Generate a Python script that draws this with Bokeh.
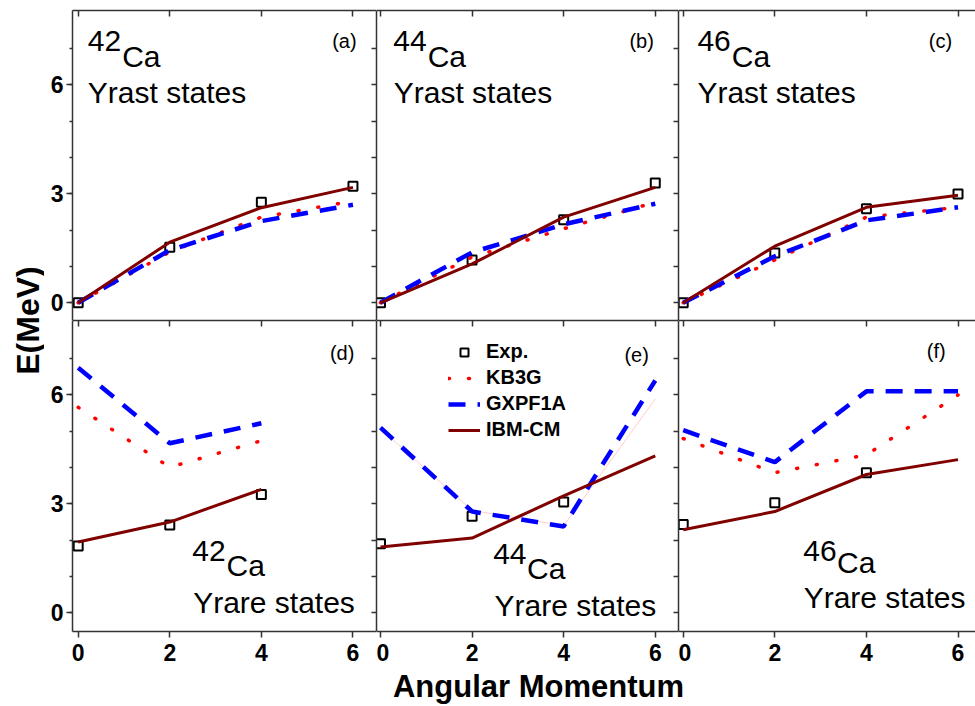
import math
from bokeh.plotting import figure
from bokeh.models import (Range1d, LinearAxis, FixedTicker, Label, Legend,
                          LegendItem)
from bokeh.layouts import row, column
from bokeh.embed import file_html
from bokeh.resources import INLINE

FONT = "Liberation Sans"

# ---------------- data ----------------
J_full = [0, 2, 4, 6]
J_short = [0, 2, 4]

# (a) 42Ca yrast
a_exp = [0.00, 1.53, 2.77, 3.21]
a_kb3g = [0.00, 1.40, 2.36, 2.80]
a_gxpf1a = [0.00, 1.45, 2.25, 2.70]
a_ibm = [0.00, 1.67, 2.62, 3.18]
# (b) 44Ca yrast
b_exp = [0.00, 1.18, 2.29, 3.30]
b_kb3g = [0.00, 1.26, 2.04, 2.77]
b_gxpf1a = [0.00, 1.39, 2.16, 2.73]
b_ibm = [0.00, 1.07, 2.36, 3.18]
# (c) 46Ca yrast
c_exp = [0.00, 1.37, 2.59, 3.00]
c_kb3g = [0.00, 1.18, 2.36, 2.63]
c_gxpf1a = [0.00, 1.28, 2.27, 2.63]
c_ibm = [0.00, 1.56, 2.63, 2.96]
# (d) 42Ca yrare
d_exp = [1.84, 2.42, 3.26]
d_kb3g = [5.66, 4.01, 4.74]
d_gxpf1a = [6.75, 4.67, 5.22]
d_ibm = [1.95, 2.50, 3.40]
# (e) 44Ca yrare
e_exp = [1.90, 2.66, 3.05]
e_kb3g = [5.07, 2.82, 2.40, 5.89]
e_gxpf1a = [5.10, 2.79, 2.38, 6.40]
e_ibm = [1.81, 2.06, 3.22, 4.32]
# (f) 46Ca yrare
f_exp = [2.43, 3.03, 3.86]
f_kb3g = [4.80, 3.86, 4.35, 6.00]
f_gxpf1a = [5.03, 4.15, 6.10, 6.10]
f_ibm = [2.29, 2.79, 3.81, 4.22]

y_ticks = [0, 3, 6]
y_minor = [0, 1, 2, 3, 4, 5, 6, 7]
x_ticks = [0, 2, 4, 6]

series_labels = ["Exp.", "KB3G", "GXPF1A", "IBM-CM"]

panels = [
    dict(tag="(a)", mass="42", state="Yrast states", J_exp=J_full, exp=a_exp,
         J_th=J_full, kb=a_kb3g, gx=a_gxpf1a, ibm=a_ibm),
    dict(tag="(b)", mass="44", state="Yrast states", J_exp=J_full, exp=b_exp,
         J_th=J_full, kb=b_kb3g, gx=b_gxpf1a, ibm=b_ibm),
    dict(tag="(c)", mass="46", state="Yrast states", J_exp=J_full, exp=c_exp,
         J_th=J_full, kb=c_kb3g, gx=c_gxpf1a, ibm=c_ibm),
    dict(tag="(d)", mass="42", state="Yrare states", J_exp=J_short, exp=d_exp,
         J_th=J_short, kb=d_kb3g, gx=d_gxpf1a, ibm=d_ibm),
    dict(tag="(e)", mass="44", state="Yrare states", J_exp=J_short, exp=e_exp,
         J_th=J_full, kb=e_kb3g, gx=e_gxpf1a, ibm=e_ibm),
    dict(tag="(f)", mass="46", state="Yrare states", J_exp=J_short, exp=f_exp,
         J_th=J_full, kb=f_kb3g, gx=f_gxpf1a, ibm=f_ibm),
]

# ---------------- layout geometry ----------------
ylab_w = 44
col_w = [332, 302, 297]
row_h = [320, 347]
xlab_h = 39
x_rng = [(-0.124, 6.514), (-0.087, 6.507), (-0.103, 6.382)]
y_rng = [(-0.488, 8.052), (-0.515, 8.052)]

# text placement (data units) per panel: mass-number, "Ca", state text, tag
txt_pos = [
    dict(m=(0.21, 7.225), ca=(0.96, 6.795), st=(0.21, 5.805), tg=(6.08, 7.205)),
    dict(m=(0.28, 7.225), ca=(1.03, 6.795), st=(0.29, 5.805), tg=(5.97, 7.205)),
    dict(m=(0.31, 7.225), ca=(1.06, 6.795), st=(0.31, 5.805), tg=(5.87, 7.205)),
    dict(m=(2.49, 1.715), ca=(3.24, 1.305), st=(2.51, 0.295), tg=(6.03, 7.165)),
    dict(m=(2.46, 1.625), ca=(3.20, 1.215), st=(2.49, 0.205), tg=(5.86, 7.115)),
    dict(m=(2.62, 1.715), ca=(3.36, 1.395), st=(2.63, 0.415), tg=(5.73, 7.205)),
]

AX = "#333333"


def style_axis(ax, labels, tin, tout, min_in=0, min_out=0, standoff=3):
    ax.axis_line_color = AX
    ax.axis_line_width = 1.5
    ax.major_tick_line_color = AX
    ax.major_tick_line_width = 1.5
    ax.minor_tick_line_color = AX
    ax.minor_tick_line_width = 1.5
    ax.major_tick_in = tin
    ax.major_tick_out = tout
    ax.minor_tick_in = min_in
    ax.minor_tick_out = min_out
    ax.major_label_text_font = FONT
    ax.major_label_text_font_style = "bold"
    ax.major_label_text_font_size = "23px"
    ax.major_label_text_color = "black"
    ax.major_label_standoff = standoff if labels else 0


def make_panel(idx):
    ri, ci = divmod(idx, 3)
    spec = panels[idx]
    p = figure(width=col_w[ci], height=row_h[ri], title=None,
               x_range=Range1d(*x_rng[ci]), y_range=Range1d(*y_rng[ri]),
               output_backend="svg", toolbar_location=None,
               x_axis_location=None, y_axis_location=None,
               min_border_left=28 if ci == 0 else 0, min_border_right=0,
               min_border_top=10 if ri == 0 else 0,
               min_border_bottom=0 if ri == 0 else 36)
    p.grid.visible = False
    p.outline_line_color = None
    p.background_fill_color = "white"
    p.border_fill_color = "white"

    # left axis
    if ci == 0:
        la = LinearAxis(ticker=FixedTicker(ticks=y_ticks, minor_ticks=y_minor))
        style_axis(la, True, 0, 6, 0, 3, standoff=3)
    else:
        la = LinearAxis(ticker=FixedTicker(ticks=[], minor_ticks=[]))
        style_axis(la, False, 0, 0, 0, 0)
    p.add_layout(la, "left")
    # right axis: ticks pointing inward, no labels
    if ci < 2:
        ra = LinearAxis(ticker=FixedTicker(ticks=[], minor_ticks=y_minor))
        style_axis(ra, False, 0, 0, 5, 0)
        p.add_layout(ra, "right")
    # top axis: ticks inward, no labels
    ta = LinearAxis(ticker=FixedTicker(ticks=[], minor_ticks=x_ticks))
    style_axis(ta, False, 0, 0, 6, 0)
    p.add_layout(ta, "above")
    # bottom axis
    if ri == 1:
        ba = LinearAxis(ticker=FixedTicker(ticks=x_ticks, minor_ticks=[]))
        style_axis(ba, True, 0, 6, standoff=6)
    else:
        ba = LinearAxis(ticker=FixedTicker(ticks=[], minor_ticks=[]))
        style_axis(ba, False, 0, 0)
    p.add_layout(ba, "below")

    # data
    r_exp = p.scatter(spec["J_exp"], spec["exp"], marker="square", size=9,
                      fill_color=None, line_color="black", line_width=2)
    if idx == 4:
        # in this panel KB3G shows only as a faint thin line
        p.line(spec["J_th"], spec["kb"], line_color="#ff8080", line_width=0.8,
               line_alpha=0.5)
        # dotted copy mapped onto an off-frame range, used for the legend key
        p.extra_y_ranges = {"key": Range1d(100, 108)}
        r_kb = p.line(spec["J_th"], spec["kb"], y_range_name="key",
                      line_color="#ff0000", line_width=3.5,
                      line_dash="1 19", line_cap="round")
    else:
        r_kb = p.line(spec["J_th"], spec["kb"], line_color="#ff0000",
                      line_width=3.5, line_dash="1 19", line_cap="round")
    r_gx = p.line(spec["J_th"], spec["gx"], line_color="#0000ff",
                  line_width=4.5, line_dash="17 12")
    r_ibm = p.line(spec["J_th"], spec["ibm"], line_color="#800000",
                   line_width=3)

    tp = txt_pos[idx]
    p.add_layout(Label(x=tp["m"][0], y=tp["m"][1], text=spec["mass"],
                       text_font=FONT, text_font_size="30px",
                       text_color="black", text_baseline="alphabetic"))
    p.add_layout(Label(x=tp["ca"][0], y=tp["ca"][1], text="Ca",
                       text_font=FONT, text_font_size="30px",
                       text_color="black", text_baseline="alphabetic"))
    p.add_layout(Label(x=tp["st"][0], y=tp["st"][1], text=spec["state"],
                       text_font=FONT, text_font_size="30px",
                       text_color="black", text_baseline="alphabetic"))
    p.add_layout(Label(x=tp["tg"][0], y=tp["tg"][1], text=spec["tag"],
                       text_font=FONT, text_font_size="20px",
                       text_color="black", text_align="right",
                       text_baseline="alphabetic"))

    if idx == 4:
        legend = Legend(items=[
            LegendItem(label=series_labels[0], renderers=[r_exp]),
            LegendItem(label=series_labels[1], renderers=[r_kb]),
            LegendItem(label=series_labels[2], renderers=[r_gx]),
            LegendItem(label=series_labels[3], renderers=[r_ibm]),
        ], location=(72, 190))
        legend.label_text_font = FONT
        legend.label_text_font_style = "bold"
        legend.label_text_font_size = "20px"
        legend.label_text_color = "black"
        legend.glyph_width = 32
        legend.glyph_height = 20
        legend.label_height = 20
        legend.label_standoff = 6
        legend.spacing = 3
        legend.padding = 0
        legend.margin = 0
        legend.border_line_color = None
        legend.background_fill_alpha = 0
        p.add_layout(legend)
    return p


figs = [make_panel(i) for i in range(6)]

grid_h = sum(row_h)
total_w = ylab_w + sum(col_w)

# y-axis title strip
ylab = figure(width=ylab_w, height=grid_h, title=None,
              x_range=Range1d(0, ylab_w), y_range=Range1d(0, grid_h),
              output_backend="svg", toolbar_location=None,
              x_axis_location=None, y_axis_location=None, min_border=0)
ylab.grid.visible = False
ylab.outline_line_color = None
ylab.add_layout(Label(x=27, y=grid_h - 320, text="E(MeV)", angle=math.pi / 2,
                      text_font=FONT, text_font_style="bold",
                      text_font_size="32px", text_align="center",
                      text_baseline="middle", text_color="black"))

# x-axis title strip
xlab = figure(width=total_w, height=xlab_h, title=None,
              x_range=Range1d(0, total_w), y_range=Range1d(0, xlab_h),
              output_backend="svg", toolbar_location=None,
              x_axis_location=None, y_axis_location=None, min_border=0)
xlab.grid.visible = False
xlab.outline_line_color = None
xlab.add_layout(Label(x=538, y=20, text="Angular Momentum",
                      text_font=FONT, text_font_style="bold",
                      text_font_size="31px", text_align="center",
                      text_baseline="alphabetic", text_color="black"))

grid = column(row(figs[0], figs[1], figs[2]), row(figs[3], figs[4], figs[5]))
layout = column(row(ylab, grid), xlab)

open("out.html", "w").write(file_html(layout, INLINE))
